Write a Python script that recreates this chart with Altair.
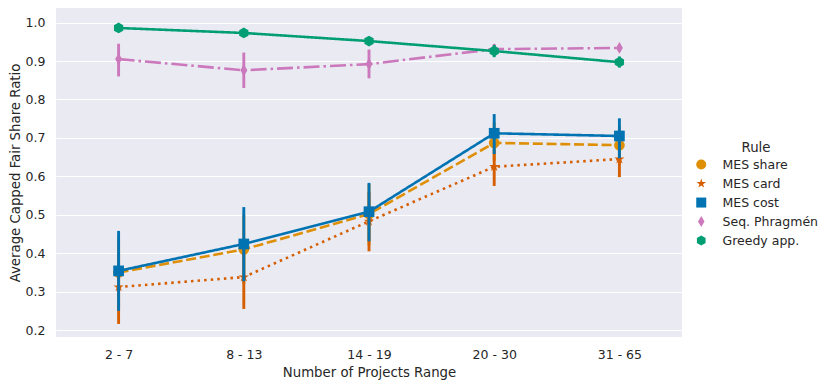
import altair as alt
import pandas as pd

categories = ["2 - 7", "8 - 13", "14 - 19", "20 - 30", "31 - 65"]
rules = ["MES share", "MES card", "MES cost", "Seq. Phragmén", "Greedy app."]
colors = ["#DE8F05", "#D55E00", "#0173B2", "#CC78BC", "#029E73"]

mes_share = [0.350, 0.410, 0.502, 0.687, 0.681]
mes_share_lo = [0.26, 0.32, 0.42, 0.64, 0.63]
mes_share_hi = [0.44, 0.50, 0.58, 0.74, 0.73]
mes_card = [0.312, 0.338, 0.483, 0.625, 0.645]
mes_card_lo = [0.216, 0.255, 0.405, 0.575, 0.598]
mes_card_hi = [0.40, 0.42, 0.56, 0.67, 0.69]
mes_cost = [0.354, 0.424, 0.508, 0.712, 0.705]
mes_cost_lo = [0.25, 0.327, 0.431, 0.658, 0.647]
mes_cost_hi = [0.458, 0.52, 0.583, 0.762, 0.751]
seq_phragmen = [0.905, 0.876, 0.892, 0.931, 0.934]
seq_phragmen_lo = [0.86, 0.83, 0.855, 0.918, 0.924]
seq_phragmen_hi = [0.945, 0.922, 0.93, 0.944, 0.944]
greedy = [0.986, 0.973, 0.952, 0.926, 0.897]
greedy_lo = [0.979, 0.966, 0.942, 0.91, 0.883]
greedy_hi = [0.993, 0.98, 0.962, 0.942, 0.912]

series = {
    "MES share": (mes_share, mes_share_lo, mes_share_hi),
    "MES card": (mes_card, mes_card_lo, mes_card_hi),
    "MES cost": (mes_cost, mes_cost_lo, mes_cost_hi),
    "Seq. Phragmén": (seq_phragmen, seq_phragmen_lo, seq_phragmen_hi),
    "Greedy app.": (greedy, greedy_lo, greedy_hi),
}

rows = []
for r, (m, lo, hi) in series.items():
    for c, a, b, d in zip(categories, m, lo, hi):
        rows.append({"Rule": r, "Range": c, "mean": a, "lo": b, "hi": d})
df = pd.DataFrame(rows)

star = "M0,-1L0.2245,-0.309L0.951,-0.309L0.363,0.118L0.588,0.809L0,0.382L-0.588,0.809L-0.363,0.118L-0.951,-0.309L-0.2245,-0.309Z"
thin_diamond = "M0,-1.1L0.65,0L0,1.1L-0.65,0Z"
hexagon = "M0,-1L0.866,-0.5L0.866,0.5L0,1L-0.866,0.5L-0.866,-0.5Z"
shapes = ["circle", star, "square", thin_diamond, hexagon]
dashes = [[10, 3.75], [2.5, 4.1], [1, 0], [16, 4, 2.5, 4], [1, 0]]

font = "DejaVu Sans"
x_enc = alt.X("Range:N", sort=categories, scale=alt.Scale(type="point", padding=0.5),
              title="Number of Projects Range",
              axis=alt.Axis(labelAngle=0, grid=False, ticks=False, domain=False, labelPadding=11,
                            labelFontSize=12.5, titleFontSize=13.3, titleFontWeight="normal",
                            labelColor="#262626", titleColor="#262626", labelFont=font, titleFont=font,
                            titlePadding=5))
y_scale = alt.Scale(domain=[0.182, 1.038], nice=False, zero=False)
y_enc = alt.Y("mean:Q", scale=y_scale, title="Average Capped Fair Share Ratio",
              axis=alt.Axis(values=[0.2, 0.3, 0.4, 0.5, 0.6, 0.7, 0.8, 0.9, 1.0], format=".1f",
                            grid=True, gridColor="white", gridWidth=1.2, ticks=False, domain=False,
                            labelPadding=11, labelFontSize=12.5, titleFontSize=13.3, titleFontWeight="normal",
                            labelColor="#262626", titleColor="#262626", labelFont=font, titleFont=font,
                            titlePadding=3))

layers = []
for i, r in enumerate(rules):
    base = alt.Chart(df).transform_filter(alt.datum.Rule == r)
    line = base.mark_line(strokeWidth=2.6, strokeDash=dashes[i], color=colors[i]).encode(
        x=x_enc, y=y_enc)
    err = base.mark_rule(strokeWidth=2.9, color=colors[i]).encode(
        x=alt.X("Range:N", sort=categories), y=alt.Y("lo:Q"), y2="hi:Q")
    pts = base.mark_point(filled=True, opacity=1, size=115, strokeWidth=0).encode(
        x=alt.X("Range:N", sort=categories), y=alt.Y("mean:Q"),
        color=alt.Color("Rule:N", scale=alt.Scale(domain=rules, range=colors),
                        legend=alt.Legend(title="Rule", orient="none", legendX=639, legendY=133,
                                          titleAnchor="middle", titleFontSize=13.3, titleFontWeight="normal",
                                          labelFontSize=12.5, labelFont=font, titleFont=font,
                                          labelColor="#262626", titleColor="#262626",
                                          symbolSize=100, rowPadding=6, labelOffset=15,
                                          titlePadding=4)),
        shape=alt.Shape("Rule:N", scale=alt.Scale(domain=rules, range=shapes)))
    layers += [line, err, pts]

chart = alt.layer(*layers).properties(
    width=626, height=329,
    autosize=alt.AutoSizeParams(type="none"),
    padding={"left": 48, "top": 0, "right": 140, "bottom": 45},
    background="white",
).configure_view(fill="#EAEAF2", stroke=None)

chart.save("out.html", embed_options={"renderer": "svg", "actions": False})
